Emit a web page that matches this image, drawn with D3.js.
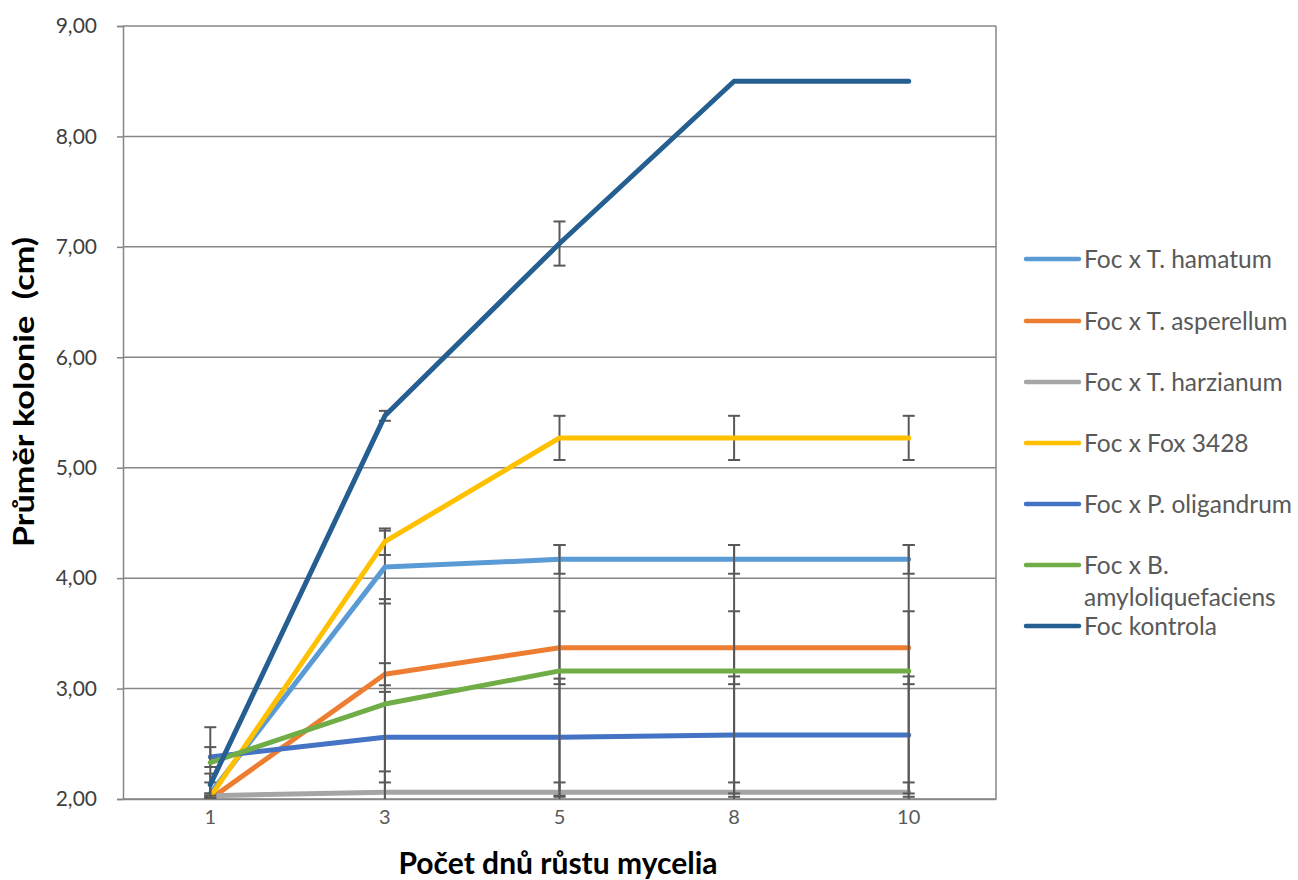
<!DOCTYPE html>
<html>
<head>
<meta charset="utf-8">
<script src="https://cdn.jsdelivr.net/npm/d3@7"></script>
<style>
  html, body { margin: 0; padding: 0; background: #fff; }
  svg { display: block; font-family: Lato, "Open Sans", sans-serif; }
</style>
</head>
<body>
<svg id="chart" width="1298" height="880"></svg>
<script>
// Days of mycelium growth (x categories)
const days = ["1", "3", "5", "8", "10"];

// Series names (legend order = drawing order)
const seriesNames = [
  "Foc x T. hamatum",
  "Foc x T. asperellum",
  "Foc x T. harzianum",
  "Foc x Fox 3428",
  "Foc x P. oligandrum",
  "Foc x B. amyloliquefaciens",
  "Foc kontrola"
];

// Mean colony diameter (cm)
const hamatum      = [2.05, 4.10, 4.17, 4.17, 4.17];
const asperellum   = [2.00, 3.13, 3.37, 3.37, 3.37];
const harzianum    = [2.03, 2.06, 2.06, 2.06, 2.06];
const fox3428      = [2.02, 4.33, 5.27, 5.27, 5.27];
const oligandrum   = [2.38, 2.56, 2.56, 2.58, 2.58];
const amylo        = [2.33, 2.86, 3.16, 3.16, 3.16];
const kontrola     = [2.13, 5.47, 7.03, 8.50, 8.50];

// Error bar half-widths (cm)
const hamatumErr    = [0.10, 0.33, 0.13, 0.13, 0.13];
const asperellumErr = [0.02, 0.10, 0.33, 0.33, 0.33];
const harzianumErr  = [0.02, 0.19, 0.09, 0.09, 0.09];
const fox3428Err    = [0.03, 0.12, 0.20, 0.20, 0.20];
const oligandrumErr = [0.09, 0.41, 0.53, 0.53, 0.53];
const amyloErr      = [0.32, 0.95, 1.14, 1.14, 1.14];
const kontrolaErr   = [0.10, 0.045, 0.20, 0, 0];

// Y-axis tick values
const yTicks = [2, 3, 4, 5, 6, 7, 8, 9];

const colors = ["#5B9BD5", "#ED7D31", "#A5A5A5", "#FFC000", "#4472C4", "#70AD47", "#255E91"];
const values = [hamatum, asperellum, harzianum, fox3428, oligandrum, amylo, kontrola];
const errors = [hamatumErr, asperellumErr, harzianumErr, fox3428Err, oligandrumErr, amyloErr, kontrolaErr];

const series = seriesNames.map((name, i) => ({
  name, color: colors[i],
  points: days.map((d, j) => ({ day: d, v: values[i][j], e: errors[i][j] }))
}));

const plot = { left: 123, right: 996, top: 26, bottom: 799 };
const svg = d3.select("#chart");

const x = d3.scaleBand().domain(days).range([plot.left, plot.right]);
const xc = d => x(d) + x.bandwidth() / 2;
const y = d3.scaleLinear().domain([2, 9]).range([plot.bottom, plot.top]);

const fmt = v => d3.format(".2f")(v).replace(".", ",");

// Horizontal gridlines
svg.append("g")
  .selectAll("line")
  .data(yTicks)
  .join("line")
  .attr("x1", plot.left).attr("x2", plot.right)
  .attr("y1", d => y(d)).attr("y2", d => y(d))
  .attr("stroke", "#868686").attr("stroke-width", 1.5);

// Right border of the plot area
svg.append("line")
  .attr("x1", plot.right).attr("x2", plot.right)
  .attr("y1", plot.top).attr("y2", plot.bottom)
  .attr("stroke", "#868686").attr("stroke-width", 1.5);

// Y axis
const yAxis = svg.append("g")
  .attr("transform", `translate(${plot.left},0)`)
  .call(d3.axisLeft(y).tickValues(yTicks).tickFormat(fmt).tickSize(6).tickPadding(20));
yAxis.select(".domain").attr("stroke", "#868686").attr("stroke-width", 1.5);
yAxis.selectAll(".tick line").attr("stroke", "#868686").attr("stroke-width", 1.5);
yAxis.selectAll(".tick text")
  .attr("font-size", 21).attr("fill", "#404040")
  .attr("font-family", "Lato, sans-serif");

// X axis
const xAxis = svg.append("g")
  .attr("transform", `translate(0,${plot.bottom})`)
  .call(d3.axisBottom(x).tickSize(0).tickPadding(11));
xAxis.select(".domain").attr("stroke", "#868686").attr("stroke-width", 1.5);
xAxis.selectAll(".tick text")
  .attr("font-size", 20).attr("fill", "#595959")
  .attr("font-family", "Lato, sans-serif");

// Axis titles (the vertical title is stretched along its baseline)
svg.append("text")
  .attr("transform", "translate(34,392) rotate(-90) scale(1.22,1)")
  .attr("text-anchor", "middle")
  .attr("font-size", 28).attr("font-weight", "bold").attr("fill", "#000")
  .attr("xml:space", "preserve")
  .text("Průměr kolonie  (cm)");

svg.append("text")
  .attr("x", 558).attr("y", 874)
  .attr("text-anchor", "middle")
  .attr("font-size", 30).attr("font-weight", "bold").attr("fill", "#000")
  .text("Počet dnů růstu mycelia");

// Clip for marks inside the plot area
svg.append("clipPath").attr("id", "plotClip")
  .append("rect")
  .attr("x", plot.left - 20).attr("y", plot.top - 10)
  .attr("width", plot.right - plot.left + 40).attr("height", plot.bottom - plot.top + 10);

const marks = svg.append("g").attr("clip-path", "url(#plotClip)");
const line = d3.line().x(p => xc(p.day)).y(p => y(p.v));
const capHalf = 6;

series.forEach(s => {
  const g = marks.append("g");
  // error bars
  const eb = g.selectAll("g.eb")
    .data(s.points.filter(p => p.e > 0))
    .join("g").attr("class", "eb")
    .attr("stroke", "#595959").attr("stroke-width", 2);
  eb.append("line")
    .attr("x1", p => xc(p.day)).attr("x2", p => xc(p.day))
    .attr("y1", p => y(p.v - p.e)).attr("y2", p => y(p.v + p.e));
  eb.append("line")
    .attr("x1", p => xc(p.day) - capHalf).attr("x2", p => xc(p.day) + capHalf)
    .attr("y1", p => y(p.v + p.e)).attr("y2", p => y(p.v + p.e));
  eb.append("line")
    .attr("x1", p => xc(p.day) - capHalf).attr("x2", p => xc(p.day) + capHalf)
    .attr("y1", p => y(p.v - p.e)).attr("y2", p => y(p.v - p.e));
  // series line
  g.append("path")
    .datum(s.points)
    .attr("d", line)
    .attr("fill", "none")
    .attr("stroke", s.color)
    .attr("stroke-width", 5)
    .attr("stroke-linecap", "round")
    .attr("stroke-linejoin", "round");
});

// Legend
const legendRows = [259, 321, 382, 443, 504, 565, 626];
const legend = svg.append("g");
series.forEach((s, i) => {
  const ly = legendRows[i];
  legend.append("line")
    .attr("x1", 1026).attr("x2", 1079)
    .attr("y1", ly).attr("y2", ly)
    .attr("stroke", s.color).attr("stroke-width", 4.5)
    .attr("stroke-linecap", "round");
  const t = legend.append("text")
    .attr("x", 1084).attr("y", ly)
    .attr("dy", "0.36em")
    .attr("font-size", 24.5).attr("fill", "#595959");
  if (s.name === "Foc x B. amyloliquefaciens") {
    t.append("tspan").attr("x", 1084).text("Foc x B.");
    t.append("tspan").attr("x", 1084).attr("dy", 32).text("amyloliquefaciens");
  } else {
    t.text(s.name);
  }
});
</script>
</body>
</html>
